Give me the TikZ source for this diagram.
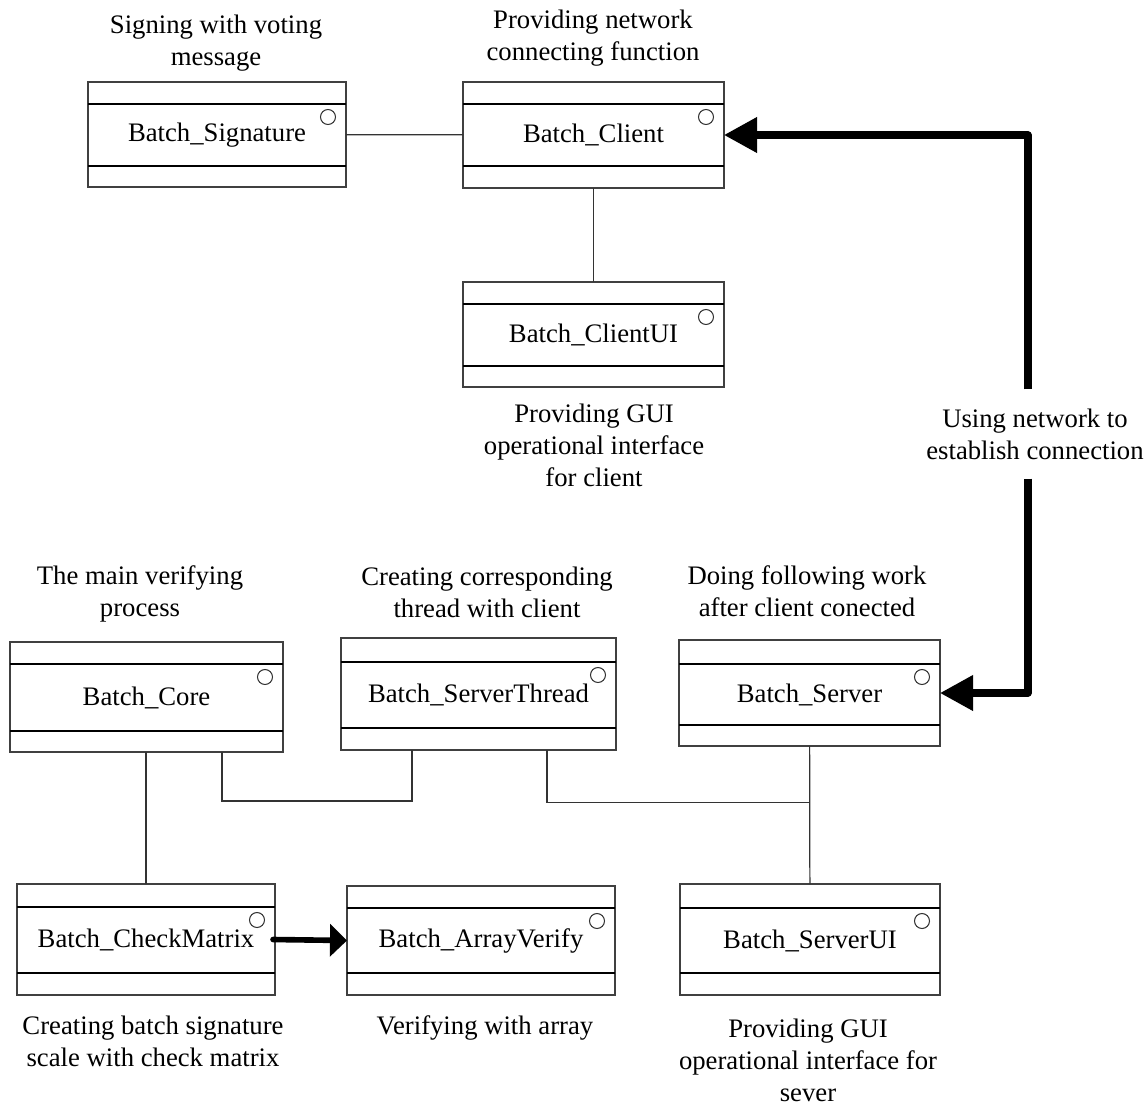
\documentclass[tikz,border=0pt]{standalone}
\usepackage{fontspec}
\setmainfont{Liberation Serif}
\usepackage{tikz}
\usetikzlibrary{arrows.meta, positioning, calc}
\tikzset{
    classframe/.style={rectangle, draw=black!75, line width=0.7pt, inner sep=0pt, outer sep=0pt},
    divider/.style={draw=black, line width=0.9pt},
    classname/.style={font=\fontsize{15.2}{18.2}\selectfont},
    marker/.style={draw=black!80, line width=0.6pt},
    note/.style={align=center, font=\fontsize{15.2}{18.2}\selectfont},
    link/.style={draw=black!80, line width=0.7pt},
    bigarrow/.style={-{Triangle[length=0.66cm, width=0.68cm]}, line width=4pt, line join=round},
    callarrow/.style={-{Triangle[length=0.34cm, width=0.64cm]}, line width=3.2pt, line cap=round}
}
% class box: name, left, top, right, bottom, first divider, second divider, text
\newcommand{\classbox}[8]{%
    \node[classframe, minimum width={(#4-#2)*0.02cm}, minimum height={(#5-#3)*0.02cm}] (#1) at ({(#2+#4)/2},{(#3+#5)/2}) {};
    \draw[divider] (#2,#6) -- (#4,#6) (#2,#7) -- (#4,#7);
    \node[classname] (#1-name) at ({(#2+#4)/2},{(#6+#7)/2}) {#8};
    \draw[marker] (#4-18,#6+13) circle[radius=0.15cm];
}

\begin{document}
\begin{tikzpicture}[x=0.02cm, y=-0.02cm]
    \useasboundingbox (0,0) rectangle (1146,1106);

    % Client side
    \classbox{sig}{88}{82}{346}{187}{104}{166}{Batch\_Signature}
    \classbox{client}{463}{82}{724}{188}{104}{166}{Batch\_Client}
    \classbox{clientui}{463}{282}{724}{387}{304}{366}{Batch\_ClientUI}

    % Server side
    \classbox{core}{10}{642}{283}{752}{664}{731}{Batch\_Core}
    \classbox{sthread}{341}{638}{616}{750}{662}{728}{Batch\_ServerThread}
    \classbox{server}{679}{640}{940}{746}{664}{725}{Batch\_Server}
    \classbox{checkm}{17}{884}{275}{995}{907}{973}{Batch\_CheckMatrix}
    \classbox{arrayv}{347}{886}{615}{995}{908}{973}{Batch\_ArrayVerify}
    \classbox{serverui}{680}{884}{940}{995}{908}{973}{Batch\_ServerUI}

    % Notes
    \node[note] (sig-note) at (216,43) {Signing with voting\\message};
    \node[note] (client-note) at (593,38) {Providing network\\connecting function};
    \node[note] (clientui-note) at (594,445) {Providing GUI\\operational interface\\for client};
    \node[note, inner sep=0.38cm] (net-note) at (1035,434) {Using network to\\establish connection};
    \node[note] (core-note) at (140,594) {The main verifying\\process};
    \node[note] (sthread-note) at (487,592) {Creating corresponding\\thread with client};
    \node[note] (server-note) at (807,591) {Doing following work\\after client conected};
    \node[note] (checkm-note) at (153,1041) {Creating batch signature\\scale with check matrix};
    \node[note] (arrayv-note) at (485,1028) {Verifying with array};
    \node[note] (serverui-note) at (808,1060) {Providing GUI\\operational interface for\\sever};

    % Links
    \draw[link] (sig) -- (client);
    \draw[link] (client) -- (clientui);
    \draw[link] (checkm.north) -- (checkm.north |- core.south);
    \draw[link] ($(core.south)+(75.5,0)$) -- ++(0,49) -| ($(sthread.south)+(-66.5,0)$);
    \coordinate (tee) at ($(server.south)!0.41!(serverui.north)$);
    \draw[link] (server) -- (serverui);
    \draw[link] ($(sthread.south)+(68.5,0)$) |- (tee);

    % Calls
    \draw[bigarrow] ($(net-note.north)+(-7,0)$) |- (client.east);
    \draw[bigarrow] ($(net-note.south)+(-7,0)$) |- (server.east);
    \draw[callarrow] ($(checkm.east)+(-2,0)$) -- (arrayv.west);
\end{tikzpicture}
\end{document}
